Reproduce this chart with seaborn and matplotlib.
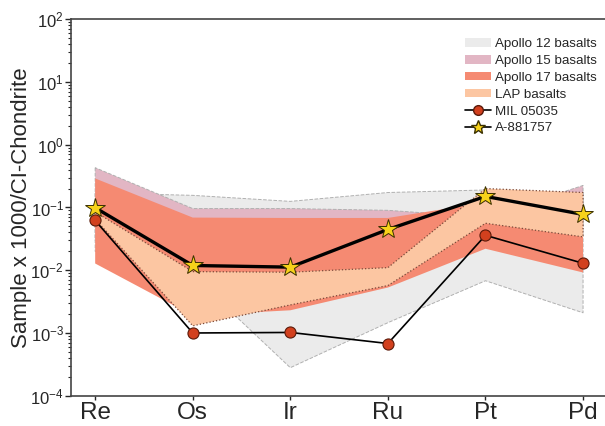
import numpy as np
import seaborn as sns
import matplotlib
matplotlib.use("Agg")
import matplotlib.pyplot as plt
from matplotlib.patches import Patch
from matplotlib.lines import Line2D
from matplotlib.ticker import FuncFormatter

# Data (CI-chondrite normalised)
elements = ['Re', 'Os', 'Ir', 'Ru', 'Pt', 'Pd']

mil_05035 = [0.062, 1.0e-3, 1.02e-3, 6.8e-4, 0.036, 0.0129]
a_881757 = [0.099, 0.0119, 0.0112, 0.0446, 0.15, 0.0775]

apollo12_hi = [0.17, 0.156, 0.125, 0.173, 0.19, 0.17]
apollo12_lo = [0.02, 8.2e-3, 2.8e-4, 1.46e-3, 6.8e-3, 2.1e-3]

apollo15_hi = [0.43, 0.096, 0.096, 0.09, 0.07, 0.224]
apollo15_lo = [0.03, 0.02, 0.02, 0.02, 0.03, 0.05]

apollo17_hi = [0.29, 0.069, 0.068, 0.068, 0.12, 0.10]
apollo17_lo = [0.0128, 1.9e-3, 2.3e-3, 5.3e-3, 0.022, 9.2e-3]

lap_hi = [0.085, 9.5e-3, 9.3e-3, 0.011, 0.2, 0.173]
lap_lo = [0.065, 1.3e-3, 2.8e-3, 5.7e-3, 0.056, 0.034]

# Style
sns.set_style('ticks')
plt.rcParams['font.family'] = ['Liberation Sans', 'DejaVu Sans']
plt.rcParams['mathtext.fontset'] = 'custom'
plt.rcParams['mathtext.rm'] = 'Liberation Sans'
plt.rcParams['mathtext.default'] = 'rm'

c_a12 = '#ebebeb'
c_a15 = '#e2b6c4'
c_a17 = '#f58a72'
c_lap = '#fcc6a2'

fig = plt.figure(figsize=(6.05, 4.26), dpi=100)
ax = fig.add_axes([0.117, 0.071, 0.883, 0.884])

x = np.arange(len(elements))

# Basalt ranges, back to front
ax.fill_between(x, apollo12_lo, apollo12_hi, facecolor=c_a12, edgecolor='#b0b0b0',
                linestyle='--', linewidth=0.7, zorder=1)
ax.fill_between(x, apollo15_lo, apollo15_hi, facecolor=c_a15, edgecolor='#b0b0b0',
                linestyle='--', linewidth=0.7, zorder=2)
ax.fill_between(x, apollo17_lo, apollo17_hi, facecolor=c_a17, edgecolor='none',
                zorder=3)
ax.fill_between(x, lap_lo, lap_hi, facecolor=c_lap, edgecolor='#7a4a3a',
                linestyle=':', linewidth=0.9, zorder=4)

# Samples
sns.lineplot(x=x, y=mil_05035, ax=ax, color='black', linewidth=1.2, marker='o',
             markersize=8, markerfacecolor='#d2401e', markeredgecolor='#5a1a0a',
             markeredgewidth=0.8, zorder=5)
sns.lineplot(x=x, y=a_881757, ax=ax, color='black', linewidth=2.4, marker='*',
             markersize=15, markerfacecolor='#f7d21a', markeredgecolor='#3a3000',
             markeredgewidth=0.7, zorder=6)

ax.set_yscale('log')
ax.set_ylim(1e-4, 1e2)
ax.set_xlim(-0.25, 5.225)
ax.yaxis.set_major_formatter(FuncFormatter(lambda v, _: r'$10^{%d}$' % round(np.log10(v))))
ax.set_xticks(x)
ax.set_xticklabels(elements, fontsize=17.5)
ax.tick_params(axis='y', labelsize=12, direction='out', length=4, width=1, pad=1)
ax.tick_params(axis='y', which='minor', length=2.5, width=0.8)
ax.tick_params(axis='x', length=3, width=1, pad=1.5)
ax.set_ylabel('Sample x 1000/CI-Chondrite', fontsize=16)
ax.yaxis.set_label_coords(-0.072, 0.5)

for side in ['left', 'bottom', 'top']:
    ax.spines[side].set_color('#444444')
    ax.spines[side].set_linewidth(1.2)
ax.spines['right'].set_visible(False)

# Legend
handles = [
    Patch(facecolor=c_a12, edgecolor='none', label='Apollo 12 basalts'),
    Patch(facecolor=c_a15, edgecolor='none', label='Apollo 15 basalts'),
    Patch(facecolor=c_a17, edgecolor='none', label='Apollo 17 basalts'),
    Patch(facecolor=c_lap, edgecolor='none', label='LAP basalts'),
    Line2D([], [], color='black', linewidth=1.2, marker='o', markersize=7,
           markerfacecolor='#d2401e', markeredgecolor='#5a1a0a', label='MIL 05035'),
    Line2D([], [], color='black', linewidth=1.2, marker='*', markersize=10,
           markerfacecolor='#f7d21a', markeredgecolor='#3a3000', label='A-881757'),
]
fig.legend(handles=handles, loc='upper left', bbox_to_anchor=(0.768, 0.91),
           frameon=False, fontsize=9.6, handlelength=2.0, handleheight=0.6,
           handletextpad=0.3, labelspacing=0.36, borderpad=0, borderaxespad=0)

plt.savefig('out.png', dpi=100)
